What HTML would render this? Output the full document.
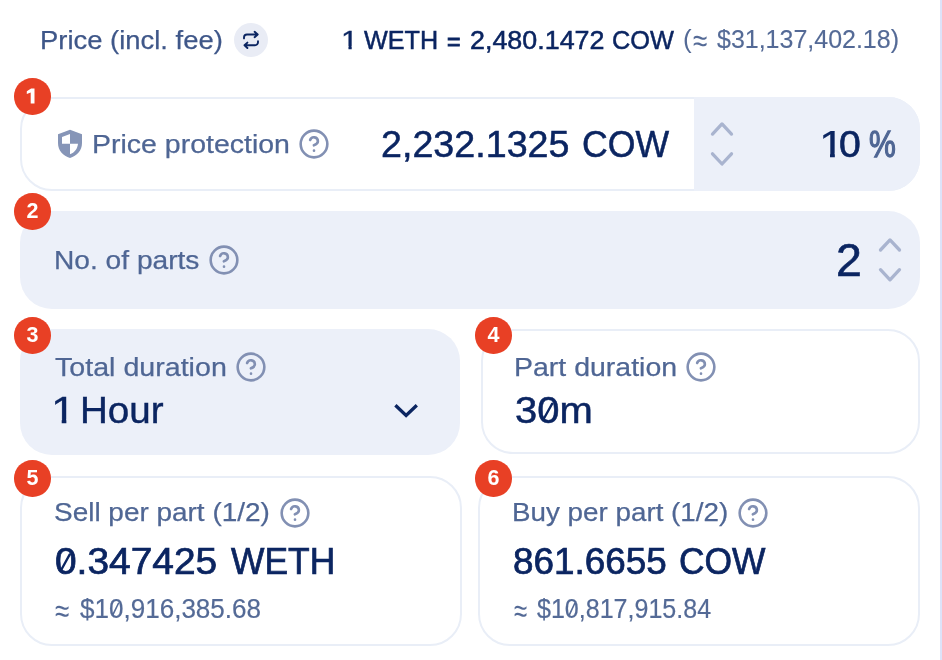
<!DOCTYPE html>
<html><head><meta charset="utf-8"><title>TWAP</title>
<style>
html,body{margin:0;padding:0;background:#fff;}
body{width:942px;height:660px;position:relative;overflow:hidden;font-family:"Liberation Sans",sans-serif;}
.ab{position:absolute;}
.t{position:absolute;white-space:pre;line-height:1;transform-origin:0 0;}
.box{position:absolute;box-sizing:border-box;border-radius:32px;}
.fill{background:#ecf0f9;}
.line{border:2px solid #e9eef7;background:#fff;}
.bd{position:absolute;width:36.5px;height:36.5px;border-radius:50%;background:#e84025;color:#fff;font-weight:700;font-size:21.5px;line-height:37.7px;text-align:center;}
</style></head><body>
<div class="ab" style="left:940px;top:0;width:2px;height:660px;background:#dde3f9"></div>
<!-- header -->
<div class="ab" style="left:234px;top:23px;width:34px;height:34px;border-radius:50%;background:#e9ecf5"></div>
<svg class="ab" style="left:0;top:0" width="942" height="660" fill="none" stroke="#0b2561" stroke-width="1.9" stroke-linecap="round" stroke-linejoin="round">
<path d="M254.6 31.8 L257.7 34.5 L254.6 37.2 M257.5 34.5 H247 a3 3 0 0 0 -3 3 V38.4"/>
<path d="M247.4 42.6 L244.5 45.3 L247.4 48 M244.7 45.3 H255 a3 3 0 0 0 3 -3 V41.2"/>
</svg>
<!-- boxes -->
<div class="box line" style="left:20px;top:97px;width:900px;height:93.5px"></div>
<div class="box fill" style="left:694px;top:97px;width:226px;height:93.5px;border-radius:0 32px 32px 0"></div>
<div class="box fill" style="left:20px;top:211px;width:900px;height:98px"></div>
<div class="box fill" style="left:20px;top:329px;width:440px;height:125.6px"></div>
<div class="box line" style="left:480.5px;top:329px;width:439.5px;height:125px"></div>
<div class="box line" style="left:20px;top:475.5px;width:442px;height:170.5px"></div>
<div class="box line" style="left:478px;top:475.5px;width:442px;height:170.5px"></div>
<!-- shield -->
<svg class="ab" style="left:0;top:0" width="942" height="660"><path fill="#8695b7" fill-rule="evenodd" d="M70 129.7 L82 134.3 V143 C82 150.5 77 156 70 158 C63 156 58 150.5 58 143 V134.3 Z M70 133.9 V143.7 H62 V137 Z M70 143.7 H78 C77.5 148.8 74.5 152.6 70 154.3 Z"/></svg>
<svg class="ab" style="left:298.30px;top:127.90px" width="32" height="32" viewBox="0 0 24 24" fill="none" stroke="#8290b3" stroke-width="1.95" stroke-linecap="round" stroke-linejoin="round"><circle cx="12" cy="12" r="10"/><path d="M9.09 9a3 3 0 0 1 5.83 1c0 2-3 3-3 3"/><line x1="12" y1="17" x2="12.01" y2="17"/></svg><svg class="ab" style="left:208.30px;top:243.70px" width="32" height="32" viewBox="0 0 24 24" fill="none" stroke="#8290b3" stroke-width="1.95" stroke-linecap="round" stroke-linejoin="round"><circle cx="12" cy="12" r="10"/><path d="M9.09 9a3 3 0 0 1 5.83 1c0 2-3 3-3 3"/><line x1="12" y1="17" x2="12.01" y2="17"/></svg><svg class="ab" style="left:235.00px;top:351.10px" width="32" height="32" viewBox="0 0 24 24" fill="none" stroke="#8290b3" stroke-width="1.95" stroke-linecap="round" stroke-linejoin="round"><circle cx="12" cy="12" r="10"/><path d="M9.09 9a3 3 0 0 1 5.83 1c0 2-3 3-3 3"/><line x1="12" y1="17" x2="12.01" y2="17"/></svg><svg class="ab" style="left:684.50px;top:350.50px" width="32" height="32" viewBox="0 0 24 24" fill="none" stroke="#8290b3" stroke-width="1.95" stroke-linecap="round" stroke-linejoin="round"><circle cx="12" cy="12" r="10"/><path d="M9.09 9a3 3 0 0 1 5.83 1c0 2-3 3-3 3"/><line x1="12" y1="17" x2="12.01" y2="17"/></svg><svg class="ab" style="left:278.80px;top:497.00px" width="32" height="32" viewBox="0 0 24 24" fill="none" stroke="#8290b3" stroke-width="1.95" stroke-linecap="round" stroke-linejoin="round"><circle cx="12" cy="12" r="10"/><path d="M9.09 9a3 3 0 0 1 5.83 1c0 2-3 3-3 3"/><line x1="12" y1="17" x2="12.01" y2="17"/></svg><svg class="ab" style="left:737.00px;top:497.00px" width="32" height="32" viewBox="0 0 24 24" fill="none" stroke="#8290b3" stroke-width="1.95" stroke-linecap="round" stroke-linejoin="round"><circle cx="12" cy="12" r="10"/><path d="M9.09 9a3 3 0 0 1 5.83 1c0 2-3 3-3 3"/><line x1="12" y1="17" x2="12.01" y2="17"/></svg>
<svg class="ab" style="left:0;top:0" width="942" height="660" fill="none" stroke="#a9b4cf" stroke-width="3.3" stroke-linecap="round" stroke-linejoin="round"><polyline points="712.5,134.1 722,123.9 731.5,134.1"/><polyline points="712.5,153.8 722,164 731.5,153.8"/></svg>
<svg class="ab" style="left:0;top:0" width="942" height="660" fill="none" stroke="#a9b4cf" stroke-width="3.3" stroke-linecap="round" stroke-linejoin="round"><polyline points="880.5,250 890,239.9 899.5,250"/><polyline points="880.5,269.7 890,279.8 899.5,269.7"/></svg>
<svg class="ab" style="left:0;top:0" width="942" height="660" fill="none" stroke="#0b2561" stroke-width="3.3"><polyline points="395.4,405.2 406.1,415.5 416.8,405.2"/></svg>
<div id="txt" style="position:absolute;left:0;top:0;width:942px;height:660px;will-change:transform">
<div class="bd" style="left:14.25px;top:78.05px"></div><svg class="ab" style="left:0;top:0" width="942" height="660"><path fill="#fff" d="M31.1 88.6 H34.5 V103.6 H30.7 V92.4 L26.8 94.1 V91.2 Z"/></svg><div class="bd" style="left:14.25px;top:193.05px">2</div><div class="bd" style="left:14.25px;top:317.05px">3</div><div class="bd" style="left:475.25px;top:317.15px">4</div><div class="bd" style="left:14.15px;top:460.15px">5</div><div class="bd" style="left:475.25px;top:460.05px">6</div>
<span class="t" style="left:40.49px;top:27.29px;font-size:26px;color:#3f5789;-webkit-text-stroke:0.25px #3f5789;transform:scaleX(1.0541);">Price (incl. fee)</span>
<span class="t" style="left:341.13px;top:27.49px;font-size:26px;color:#0b2561;-webkit-text-stroke:0.3px #0b2561;transform:scaleX(1.1852);clip-path:polygon(0 0,100% 0,100% 72%,62.5% 72%,62.5% 100%,43.5% 100%,43.5% 72%,0 72%);">1</span>
<span class="t" style="left:363.64px;top:27.49px;font-size:26px;color:#0b2561;-webkit-text-stroke:0.5px #0b2561;transform:scaleX(0.9680);">WETH</span>
<span class="t" style="left:446.83px;top:28.19px;font-size:26px;color:#0b2561;-webkit-text-stroke:1.0px #0b2561;transform:scaleX(0.8873);">=</span>
<span class="t" style="left:469.97px;top:27.49px;font-size:26px;color:#0b2561;-webkit-text-stroke:0.5px #0b2561;transform:scaleX(1.0336);">2,480.1472</span>
<span class="t" style="left:611.93px;top:27.49px;font-size:26px;color:#0b2561;-webkit-text-stroke:0.5px #0b2561;transform:scaleX(0.9737);">COW</span>
<span class="t" style="left:683.00px;top:26.49px;font-size:26px;color:#546a96;">(</span>
<span class="t" style="left:692.69px;top:24.02px;font-size:32px;color:#546a96;transform:scale(0.8127,1.0381);">≈</span>
<span class="t" style="left:716.77px;top:26.30px;font-size:26.7px;color:#546a96;-webkit-text-stroke:0.15px #546a96;transform:scaleX(0.9361);">$31,137,402.18)</span>
<span class="t" style="left:92.27px;top:131.40px;font-size:26.7px;color:#4f6694;-webkit-text-stroke:0.25px #4f6694;transform:scaleX(1.0674);">Price protection</span>
<span class="t" style="left:381.43px;top:127.23px;font-size:36px;color:#0b2561;-webkit-text-stroke:0.5px #0b2561;transform:scaleX(1.0462);">2,232.1325</span>
<span class="t" style="left:581.62px;top:127.23px;font-size:36px;color:#0b2561;-webkit-text-stroke:0.5px #0b2561;transform:scaleX(0.9890);">COW</span>
<span class="t" style="left:818.59px;top:127.43px;font-size:36px;color:#0b2561;-webkit-text-stroke:0.25px #0b2561;transform:scaleX(1.2649);clip-path:polygon(0 0,100% 0,100% 72%,62.5% 72%,62.5% 100%,43.5% 100%,43.5% 72%,0 72%);">1</span>
<span class="t" style="left:839.21px;top:127.43px;font-size:36px;color:#0b2561;-webkit-text-stroke:0.6px #0b2561;transform:scaleX(1.0889);">0</span>
<span class="t" style="left:869.37px;top:127.43px;font-size:36px;color:#4f6694;-webkit-text-stroke:1.3px #4f6694;transform:scaleX(0.8361);">%</span>
<span class="t" style="left:54.29px;top:246.50px;font-size:26.7px;color:#4f6694;-webkit-text-stroke:0.25px #4f6694;transform:scaleX(1.0543);">No. of parts</span>
<span class="t" style="left:835.56px;top:237.68px;font-size:45.5px;color:#0b2561;-webkit-text-stroke:0.6px #0b2561;transform:scaleX(1.0212);">2</span>
<span class="t" style="left:55.06px;top:353.70px;font-size:26.7px;color:#4f6694;-webkit-text-stroke:0.25px #4f6694;transform:scaleX(1.0722);">Total duration</span>
<span class="t" style="left:51.47px;top:393.30px;font-size:36.5px;color:#0b2561;-webkit-text-stroke:0.3px #0b2561;transform:scaleX(1.2105);clip-path:polygon(0 0,100% 0,100% 72%,62.5% 72%,62.5% 100%,43.5% 100%,43.5% 72%,0 72%);">1</span>
<span class="t" style="left:80.09px;top:393.30px;font-size:36.5px;color:#0b2561;-webkit-text-stroke:0.4px #0b2561;transform:scaleX(1.0566);">Hour</span>
<span class="t" style="left:513.57px;top:353.70px;font-size:26.7px;color:#4f6694;-webkit-text-stroke:0.25px #4f6694;transform:scaleX(1.0673);">Part duration</span>
<span class="t" style="left:514.73px;top:393.20px;font-size:36.5px;color:#0b2561;-webkit-text-stroke:0.5px #0b2561;transform:scaleX(1.0948);">30m</span>
<span class="t" style="left:54.35px;top:499.40px;font-size:26.7px;color:#4f6694;-webkit-text-stroke:0.25px #4f6694;transform:scaleX(1.0469);">Sell per part (1/2)</span>
<span class="t" style="left:54.92px;top:544.03px;font-size:36px;color:#0b2561;-webkit-text-stroke:0.7px #0b2561;transform:scaleX(1.0797);">0.347425</span>
<span class="t" style="left:230.65px;top:544.03px;font-size:36px;color:#0b2561;-webkit-text-stroke:0.7px #0b2561;transform:scaleX(0.9831);">WETH</span>
<span class="t" style="left:55.19px;top:593.63px;font-size:32px;color:#546a96;transform:scale(0.8127,1.0286);">≈</span>
<span class="t" style="left:79.56px;top:595.54px;font-size:27px;color:#546a96;-webkit-text-stroke:0.2px #546a96;transform:scaleX(0.9646);">$10,916,385.68</span>
<span class="t" style="left:512.32px;top:499.40px;font-size:26.7px;color:#4f6694;-webkit-text-stroke:0.25px #4f6694;transform:scaleX(1.0412);">Buy per part (1/2)</span>
<span class="t" style="left:513.12px;top:544.03px;font-size:36px;color:#0b2561;-webkit-text-stroke:0.7px #0b2561;transform:scaleX(1.0234);">861.6655</span>
<span class="t" style="left:678.53px;top:544.03px;font-size:36px;color:#0b2561;-webkit-text-stroke:0.7px #0b2561;transform:scaleX(0.9833);">COW</span>
<span class="t" style="left:514.45px;top:593.63px;font-size:32px;color:#546a96;transform:scale(0.7492,1.0286);">≈</span>
<span class="t" style="left:537.37px;top:595.54px;font-size:27px;color:#546a96;-webkit-text-stroke:0.2px #546a96;transform:scaleX(0.9274);">$10,817,915.84</span>
</div>
<svg class="ab" style="left:0;top:0" width="942" height="660" fill="none" stroke-linecap="round"><line x1="543.52" y1="419.23" x2="552.22" y2="403.64" stroke="rgb(11, 37, 97)" stroke-width="2.3"/><line x1="61.31" y1="569.70" x2="69.76" y2="554.33" stroke="rgb(11, 37, 97)" stroke-width="2.3"/><line x1="112.81" y1="614.80" x2="118.48" y2="603.27" stroke="rgb(84, 106, 150)" stroke-width="1.6"/><line x1="569.34" y1="614.80" x2="574.79" y2="603.27" stroke="rgb(84, 106, 150)" stroke-width="1.6"/></svg>
</body></html>
